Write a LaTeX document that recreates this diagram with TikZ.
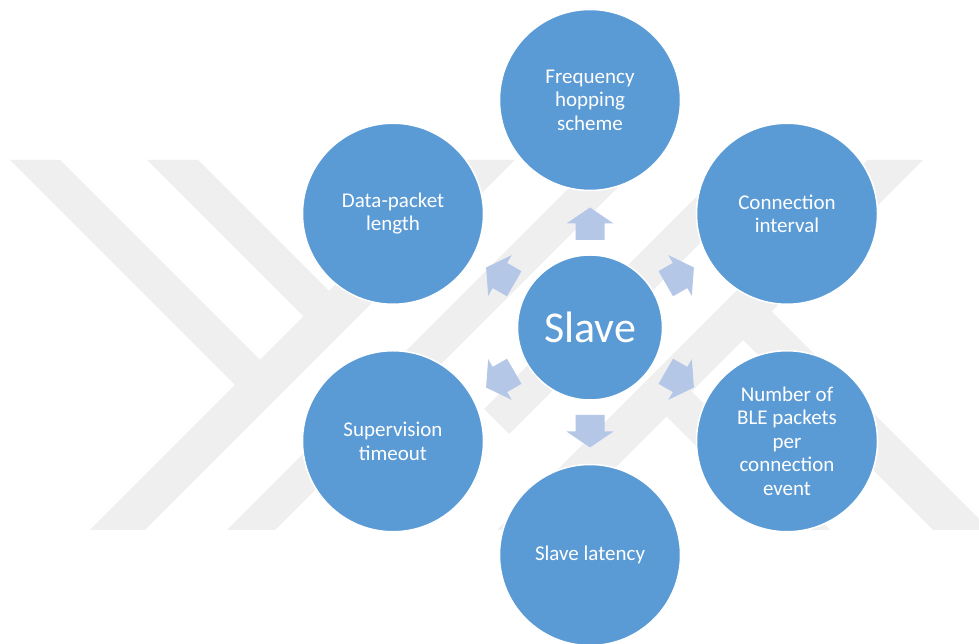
\documentclass[tikz,border=0pt]{standalone}
\usepackage{fontspec}
\setmainfont{Carlito}
\definecolor{circblue}{RGB}{91,155,213}
\definecolor{arrowblue}{RGB}{180,199,231}
\definecolor{wmgray}{RGB}{239,239,239}
\begin{document}
\begin{tikzpicture}[x=1pt,y=1pt,
  leaf/.style={circle, fill=circblue, draw=white, line width=1.5pt, minimum size=181pt,
    inner sep=0pt, text=white, align=center, font=\fontsize{21}{23.5}\selectfont},
  hub/.style={circle, fill=circblue, draw=white, line width=1.5pt, minimum size=145pt,
    inner sep=0pt, text=white, font=\fontsize{44}{50}\selectfont},
  blockarrow/.style={fill=arrowblue},
  wm/.style={fill=wmgray}]
\useasboundingbox (0,0) rectangle (979,644);
\fill[white] (0,0) rectangle (979,644);
% watermark (image coordinates)
\begin{scope}[shift={(0,644)}, yscale=-1]
  % rising bands
  \fill[wm] (460,160) -- (515,160) -- (145,530) -- (90,530) -- cycle;
  \fill[wm] (597,160) -- (645,160) -- (275,530) -- (227,530) -- cycle;
  \fill[wm] (733,160) -- (783,160) -- (509,434) -- (484,409) -- cycle;
  \fill[wm] (867,160) -- (923,160) -- (553,530) -- (497,530) -- cycle;
  % descending bands on the left
  \fill[wm] (10,160) -- (60,160) -- (287.5,387.5) -- (235,385) -- cycle;
  \fill[wm] (147,160) -- (198,160) -- (329,291) -- (303.5,316.5) -- cycle;
  % descending bands on the right
  \fill[wm] (770,310) -- (979,519) -- (979,530) -- (933,530) -- (741.5,338.5) -- cycle;
  \fill[wm] (690,390) -- (830,530) -- (780,530) -- (665,415) -- cycle;
\end{scope}
% nodes
\node[hub] (c) at (590,316.5) {Slave};
\node[leaf] (n1) at (590,544) {Frequency\\hopping\\scheme};
\node[leaf] (n2) at (787,430.25) {Connection\\interval};
\node[leaf] (n3) at (787,202.75) {Number of\\BLE packets\\per\\connection\\event};
\node[leaf] (n4) at (590,89) {Slave latency};
\node[leaf] (n5) at (393,202.75) {Supervision\\timeout};
\node[leaf] (n6) at (393,430.25) {Data-packet\\length};
% block arrows from the hub to each leaf
\foreach \a in {90,30,-30,-90,-150,150}{
  \begin{scope}[shift={(c.center)}, rotate=\a]
    \fill[blockarrow] (87.5,-14.5) -- (104,-14.5) -- (104,-23.5) -- (120,0)
      -- (104,23.5) -- (104,14.5) -- (87.5,14.5) -- cycle;
  \end{scope}
}
\end{tikzpicture}
\end{document}
